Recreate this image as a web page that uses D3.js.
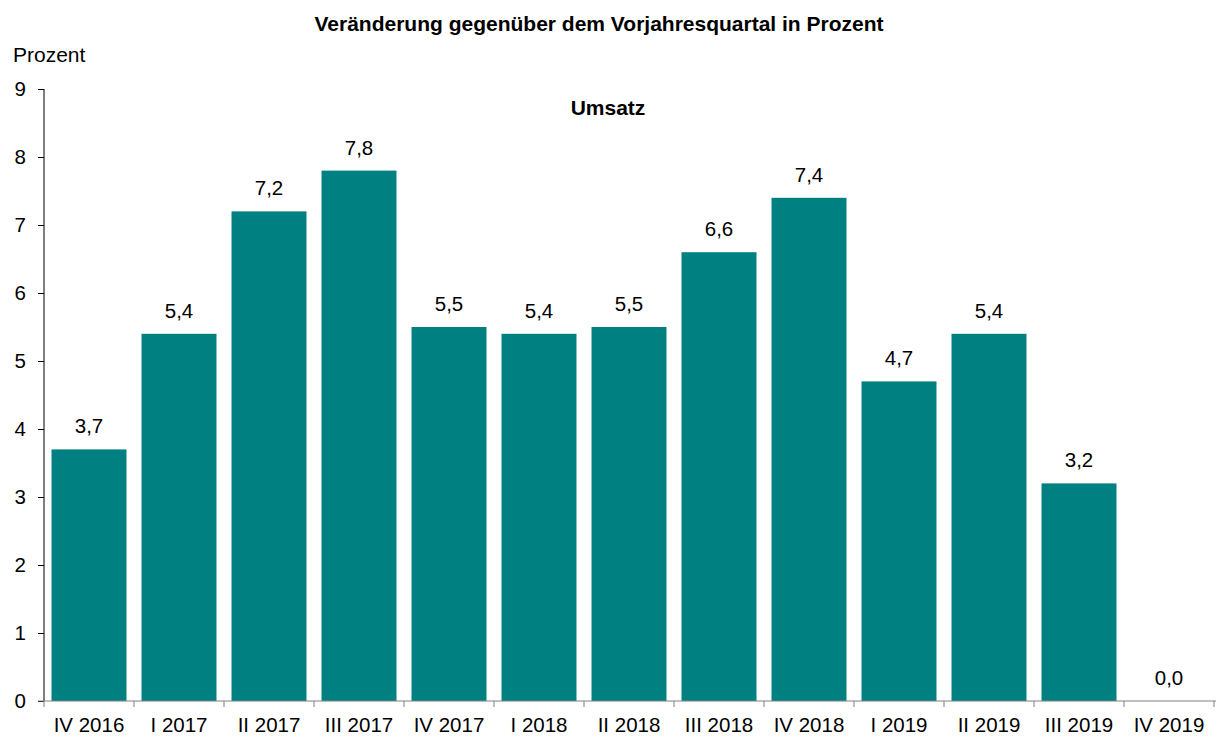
<!DOCTYPE html>
<html>
<head>
<meta charset="utf-8">
<script src="https://cdn.jsdelivr.net/npm/d3@7"></script>
<style>
  body { margin: 0; background: #fff; }
  svg { font-family: "Liberation Sans", Arial, sans-serif; }
</style>
</head>
<body>
<svg id="chart" width="1216" height="736"></svg>
<script>
// quarters and yoy change (Umsatz), percent
const quarters = ['IV 2016', 'I 2017', 'II 2017', 'III 2017', 'IV 2017', 'I 2018', 'II 2018',
  'III 2018', 'IV 2018', 'I 2019', 'II 2019', 'III 2019', 'IV 2019']
const umsatz = [3.7, 5.4, 7.2, 7.8, 5.5, 5.4, 5.5, 6.6, 7.4, 4.7, 5.4, 3.2, 0.0]
const yTicks = [0, 1, 2, 3, 4, 5, 6, 7, 8, 9]

const svg = d3.select('#chart')
const plotLeft = 44, plotRight = 1214, plotTop = 89, plotBottom = 701

const x = d3.scaleBand().domain(quarters).range([plotLeft, plotRight]).paddingInner(0.167).paddingOuter(0.0835)
const y = d3.scaleLinear().domain([0, 9]).range([plotBottom, plotTop])
const fmt = v => v.toFixed(1).replace('.', ',')

// bars
svg.selectAll('rect.bar')
  .data(umsatz)
  .join('rect')
  .attr('class', 'bar')
  .attr('x', (d, i) => x(quarters[i]))
  .attr('width', x.bandwidth())
  .attr('y', d => y(d))
  .attr('height', d => y(0) - y(d))
  .attr('fill', '#008080')

// value labels
svg.selectAll('text.val')
  .data(umsatz)
  .join('text')
  .attr('class', 'val')
  .attr('x', (d, i) => x(quarters[i]) + x.bandwidth() / 2)
  .attr('y', d => y(d) - 16)
  .attr('text-anchor', 'middle')
  .attr('font-size', 20.5)
  .text(d => fmt(d))

// y axis
const yAxis = svg.append('g')
  .attr('transform', `translate(${plotLeft},0)`)
  .call(d3.axisLeft(y).tickValues(yTicks).tickSize(6).tickPadding(12).tickFormat(d3.format('d')))
yAxis.attr('font-family', null)
yAxis.selectAll('text').attr('font-size', 20.5).attr('fill', '#000')
yAxis.selectAll('line, path').attr('stroke', '#000')
yAxis.select('.domain').attr('d', `M0,${plotBottom}V${plotTop}`)

// x axis: ticks between categories
const step = x.step()
const bounds = d3.range(quarters.length + 1).map(i => plotLeft + i * step)
const xg = svg.append('g')
xg.append('line')
  .attr('x1', plotLeft - 6).attr('x2', plotRight + 2)
  .attr('y1', plotBottom).attr('y2', plotBottom)
  .attr('stroke', '#808080').attr('stroke-width', 1)
xg.selectAll('line.tick')
  .data(bounds)
  .join('line')
  .attr('class', 'tick')
  .attr('x1', d => d).attr('x2', d => d)
  .attr('y1', plotBottom).attr('y2', plotBottom + 6)
  .attr('stroke', '#808080')
xg.selectAll('text')
  .data(quarters)
  .join('text')
  .attr('x', d => x(d) + x.bandwidth() / 2)
  .attr('y', 732)
  .attr('text-anchor', 'middle')
  .attr('font-size', 20.5)
  .text(d => d)

// titles
svg.append('text')
  .attr('x', 599).attr('y', 31)
  .attr('text-anchor', 'middle')
  .attr('font-size', 21).attr('font-weight', 'bold')
  .text('Veränderung gegenüber dem Vorjahresquartal in Prozent')
svg.append('text')
  .attr('x', 13).attr('y', 62)
  .attr('font-size', 21)
  .text('Prozent')
svg.append('text')
  .attr('x', 608).attr('y', 115)
  .attr('text-anchor', 'middle')
  .attr('font-size', 21).attr('font-weight', 'bold')
  .text('Umsatz')
</script>
</body>
</html>
